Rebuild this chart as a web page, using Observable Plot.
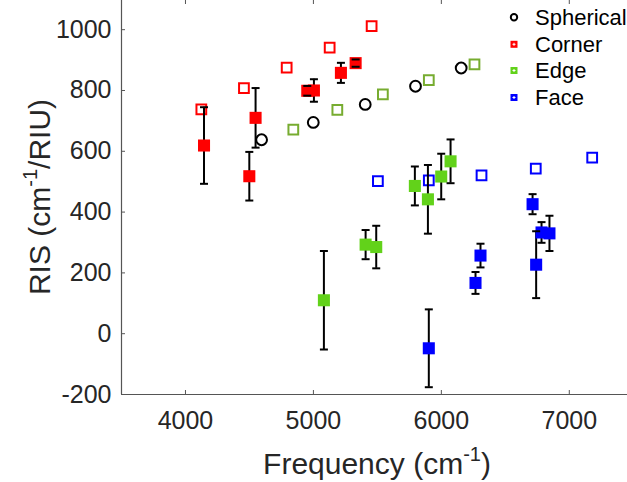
<!DOCTYPE html>
<html>
<head>
<meta charset="utf-8">
<script src="https://cdn.jsdelivr.net/npm/d3@7"></script>
<script src="https://cdn.jsdelivr.net/npm/@observablehq/plot@0.6"></script>
<style>
  html, body { margin: 0; padding: 0; background: #fff; }
  #chart { width: 627px; height: 482px; overflow: hidden; }
</style>
</head>
<body>
<div id="chart"></div>
<script>
// ---- data ----
const xTicks = [4000, 5000, 6000, 7000];
const yTicks = [-200, 0, 200, 400, 600, 800, 1000];

const freqSpherical = [4595, 4999, 5405, 5798, 6155];
const risSpherical  = [638, 695, 754, 814, 874];

const freqCornerTheory = [4124, 4457, 4791, 5127, 5455];
const risCornerTheory  = [738, 808, 875, 941, 1012];
const freqCornerExp = [4145, 4499, 4548, 4952, 5004, 5215, 5330];
const risCornerExp  = [619, 518, 710, 799, 800, 858, 890];
const errCornerExp  = [126, 80, 98, 16, 37, 33, 12];

const freqEdgeTheory = [4843, 5187, 5543, 5902, 6259];
const risEdgeTheory  = [671, 736, 787, 834, 886];
const freqEdgeExp = [5082, 5408, 5491, 5793, 5895, 5999, 6072];
const risEdgeExp  = [110, 293, 285, 486, 442, 517, 567];
const errEdgeExp  = [162, 48, 70, 64, 113, 75, 72];

const freqFaceTheory = [5504, 5902, 6314, 6738, 7179];
const risFaceTheory  = [502, 504, 521, 543, 579];
const freqFaceExp = [5902, 6267, 6306, 6713, 6741, 6783, 6845];
const risFaceExp  = [-48, 167, 257, 426, 227, 333, 330];
const errFaceExp  = [128, 36, 39, 33, 110, 34, 58];

const seriesNames = ["Spherical", "Corner", "Edge", "Face"];

// ---- styles ----
const cRed = "#ff0000", cGreen = "#62d21a", cOlive = "#77ac30", cBlue = "#0000ff";
const font = "'Liberation Sans', Arial, Helvetica, sans-serif";
const axisColor = "#262626";

const zip = (xs, ys, es) => xs.map((f, i) => ({freq: f, ris: ys[i], err: es ? es[i] : 0}));
const spherical = zip(freqSpherical, risSpherical);
const cornerT = zip(freqCornerTheory, risCornerTheory);
const edgeT = zip(freqEdgeTheory, risEdgeTheory);
const faceT = zip(freqFaceTheory, risFaceTheory);
const cornerE = zip(freqCornerExp, risCornerExp, errCornerExp);
const edgeE = zip(freqEdgeExp, risEdgeExp, errEdgeExp);
const faceE = zip(freqFaceExp, risFaceExp, errFaceExp);
const allExp = [...cornerE, ...edgeE, ...faceE];

const capSymbol = { draw(ctx) { ctx.moveTo(-4, 0); ctx.lineTo(4, 0); } };

const W = 627, H = 482, mL = 121, mB = 88;

const openSq = (data, color) => Plot.dot(data, {x: "freq", y: "ris", symbol: "square", r: 5.5, stroke: color, strokeWidth: 2, fill: "none"});
const filledSq = (data, color) => Plot.dot(data, {x: "freq", y: "ris", symbol: "square", r: 6.8, fill: color, stroke: "none"});
const fmt = d => String(d);

const svg = Plot.plot({
  width: W, height: H,
  marginLeft: mL, marginRight: 0, marginTop: 0, marginBottom: mB,
  style: {fontFamily: font, background: "#fff", color: axisColor, overflow: "visible"},
  x: {domain: [3500, 7455], axis: null},
  y: {domain: [-200, 1096], axis: null},
  marks: [
    Plot.ruleX([3500], {stroke: "#555", strokeWidth: 1.2}),
    Plot.ruleY([-200], {stroke: "#555", strokeWidth: 1.2}),
    Plot.tickX(xTicks, {x: d => d, insetTop: H - mB - 4, stroke: "#555"}),
    Plot.tickX(xTicks, {x: d => d, insetBottom: H - mB - 4, stroke: "#555"}),
    Plot.tickY(yTicks, {y: d => d, insetRight: W - mL - 4, stroke: "#555"}),
    Plot.axisX(xTicks, {tickSize: 0, tickPadding: 17, fontSize: 25, label: null, fill: axisColor, tickFormat: fmt}),
    Plot.axisY(yTicks, {tickSize: 0, tickPadding: 10, fontSize: 25, label: null, fill: axisColor, tickFormat: fmt}),
    // theory (open markers)
    Plot.dot(spherical, {x: "freq", y: "ris", symbol: "circle", r: 5.4, stroke: "black", strokeWidth: 2, fill: "none"}),
    openSq(cornerT, cRed),
    openSq(edgeT, cOlive),
    openSq(faceT, cBlue),
    // experiment (error bars + filled markers)
    Plot.ruleX(allExp, {x: "freq", y1: d => d.ris - d.err, y2: d => d.ris + d.err, stroke: "black", strokeWidth: 2}),
    filledSq(cornerE, cRed),
    filledSq(edgeE, cGreen),
    filledSq(faceE, cBlue),
    Plot.dot(allExp, {x: "freq", y: d => d.ris + d.err, symbol: capSymbol, stroke: "black", strokeWidth: 2}),
    Plot.dot(allExp, {x: "freq", y: d => d.ris - d.err, symbol: capSymbol, stroke: "black", strokeWidth: 2})
  ]
});

const s = d3.select(svg);

// axis titles with superscripts
const xt = s.append("text").attr("x", 377).attr("y", 474).attr("text-anchor", "middle")
  .style("font-family", font).style("font-size", "30px").attr("fill", axisColor);
xt.append("tspan").text("Frequency (cm");
xt.append("tspan").attr("dy", -13).style("font-size", "20px").text("-1");
xt.append("tspan").attr("dy", 13).text(")");

const yt = s.append("text").attr("transform", "translate(50,197) rotate(-90)").attr("text-anchor", "middle")
  .style("font-family", font).style("font-size", "30px").attr("fill", axisColor);
yt.append("tspan").text("RIS (cm");
yt.append("tspan").attr("dy", -13).style("font-size", "20px").text("-1");
yt.append("tspan").attr("dy", 13).text("/RIU)");

// legend
const legendColors = [null, cRed, cGreen, cBlue];
const legendY = [17.3, 44.3, 70.5, 97.5];
const lg = s.append("g").attr("text-anchor", "start");
seriesNames.forEach((name, i) => {
  const cy = legendY[i];
  if (i === 0) {
    lg.append("circle").attr("cx", 514).attr("cy", cy).attr("r", 3.2).attr("fill", "none").attr("stroke", "black").attr("stroke-width", 2);
  } else {
    lg.append("rect").attr("x", 510.5).attr("y", cy - 3.5).attr("width", 7).attr("height", 7).attr("fill", legendColors[i]);
    lg.append("path").attr("d", `M512.5,${cy}H515.5M514,${cy - 1.5}V${cy + 1.5}`).attr("stroke", "#fff").attr("stroke-width", 1);
  }
  lg.append("text").attr("x", 535).attr("y", cy).attr("dy", "0.36em").attr("text-anchor", "start")
    .style("font-family", font).style("font-size", "22px").attr("fill", "#000").text(name);
});

document.getElementById("chart").appendChild(svg);
</script>
</body>
</html>
